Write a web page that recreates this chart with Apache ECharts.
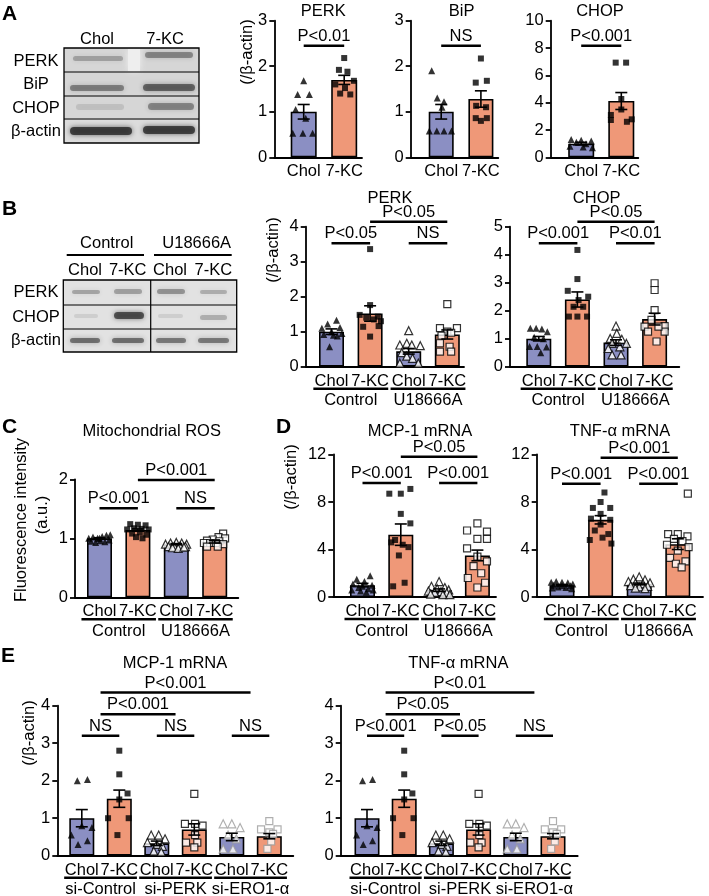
<!DOCTYPE html>
<html><head><meta charset="utf-8">
<script src="https://cdn.jsdelivr.net/npm/echarts@6/dist/echarts.min.js"></script>
<style>html,body{margin:0;padding:0;background:#fff}#c{width:709px;height:896px}</style>
</head><body><div id="c"></div><script>
// ---------------- DATA ----------------
const CATS2 = ['Chol', '7-KC'];
const CATS4 = ['Chol', '7-KC', 'Chol', '7-KC'];
const CATS6 = ['Chol', '7-KC', 'Chol', '7-KC', 'Chol', '7-KC'];
const GROUPS_U = ['Control', 'U18666A'];
const GROUPS_SI = ['si-Control', 'si-PERK', 'si-ERO1-α'];

// Panel A
const A_PERK_MEAN = [1.0, 1.70];
const A_PERK_SEM = [0.16, 0.10];
const A_PERK_PTS = [
  [[0,1.68],[-0.15,1.38],[0.14,1.38],[0.05,0.86],[-0.27,0.53],[-0.02,0.53],[0.22,0.53],[-0.2,1.05]],
  [[0,2.18],[-0.13,1.92],[0.08,1.88],[0.24,1.68],[-0.22,1.6],[0.02,1.52],[-0.1,1.4],[0.15,1.38]]
];
const A_PERK_SIG = [[0, 1, 2.45, 'P<0.01']];

const A_BIP_MEAN = [1.0, 1.28];
const A_BIP_SEM = [0.16, 0.18];
const A_BIP_PTS = [
  [[-0.24,1.9],[-0.1,1.3],[0.07,1.22],[0.02,1.1],[-0.3,0.58],[-0.11,0.58],[0.07,0.58],[0.26,0.58]],
  [[0,2.17],[-0.13,1.64],[0.15,1.68],[-0.12,1.13],[0.13,1.1],[-0.13,0.86],[0.15,0.86],[0.0,0.8]]
];
const A_BIP_SIG = [[0, 1, 2.45, 'NS']];

const A_CHOP_MEAN = [1.0, 4.12];
const A_CHOP_SEM = [0.10, 0.62];
const A_CHOP_PTS = [
  [[-0.25,1.3],[0,1.25],[0.25,1.2],[-0.12,1.1],[0.12,1.0],[-0.28,0.8],[0.05,0.75],[0.28,0.7]],
  [[-0.14,6.93],[0.12,6.93],[0,4.27],[0,3.5],[-0.26,3.1],[-0.26,2.73],[0.26,2.78],[0.14,2.6]]
];
const A_CHOP_SIG = [[0, 1, 8.17, 'P<0.001']];

// Panel B
const B_PERK_MEAN = [1.0, 1.52, 0.44, 0.92];
const B_PERK_SEM = [0.08, 0.22, 0.08, 0.13];
const B_PERK_PTS = [
  [[0.13,1.33],[-0.1,1.22],[-0.25,1.1],[0.22,1.12],[0,1.0],[-0.2,0.92],[0.15,0.88],[0.27,0.95],[-0.05,0.57],[0.05,0.9]],
  [[0,3.36],[0,1.76],[-0.27,1.48],[0.2,1.43],[-0.18,1.14],[0.22,1.16],[0,0.86],[0.1,1.35],[-0.1,1.4],[0.28,1.3]],
  [[0,1.03],[-0.23,0.62],[-0.05,0.67],[0.08,0.62],[0.3,0.6],[-0.18,0.4],[-0.05,0.3],[0.1,0.24],[0.25,0.1],[-0.23,0.1]],
  [[0,1.79],[-0.19,1.1],[0.25,1.1],[0,1.0],[0.1,0.97],[-0.15,0.89],[-0.19,0.67],[0.06,0.57],[-0.19,0.43],[0.1,0.43]]
];
const B_PERK_SIG = [[0, 1, 3.53, 'P<0.05'], [2, 3, 3.53, 'NS'], [1, 3, 4.14, 'P<0.05']];

const B_CHOP_MEAN = [1.0, 2.40, 0.86, 1.70];
const B_CHOP_SEM = [0.08, 0.27, 0.10, 0.21];
const B_CHOP_PTS = [
  [[-0.22,1.37],[-0.07,1.37],[0.08,1.35],[0.22,1.25],[-0.12,1.05],[0.12,1.0],[-0.24,0.72],[-0.04,0.72],[0.2,0.7],[0.05,0.5]],
  [[0,4.17],[0,3.13],[-0.25,2.71],[0.28,2.5],[-0.1,2.14],[0.15,2.14],[-0.22,1.79],[0.25,1.79],[0,1.79],[0.03,2.38]],
  [[0,1.45],[0.02,1.19],[-0.15,1.01],[0.15,0.98],[-0.1,0.83],[0.1,0.71],[-0.2,0.65],[-0.1,0.42],[0.13,0.42],[0.27,0.83]],
  [[0,2.98],[0,2.74],[0,2.02],[-0.08,1.67],[-0.26,1.43],[0.26,1.45],[-0.17,1.25],[0.26,1.25],[0.1,1.43],[0.05,0.9]]
];
const B_CHOP_SIG = [[0, 1, 4.41, 'P<0.001'], [2, 3, 4.41, 'P<0.01'], [1, 3, 5.18, 'P<0.05']];

// Panel C
const C_MEAN = [1.0, 1.14, 0.90, 0.94];
const C_SEM = [0.01, 0.02, 0.01, 0.02];
const C_PTS = [
  [[-0.28,1.0],[-0.17,1.02],[-0.05,1.0],[0.07,1.03],[0.18,1.05],[0.28,1.06],[-0.22,0.95],[-0.1,0.93],[0.02,0.96],[0.14,0.94],[0.25,0.97],[0,1.0]],
  [[-0.2,1.24],[0,1.23],[0.2,1.22],[-0.28,1.15],[-0.1,1.17],[0.1,1.16],[0.28,1.15],[-0.15,1.08],[0.05,1.1],[0.22,1.06],[-0.05,1.02],[0.12,1.0]],
  [[-0.28,0.9],[-0.15,0.92],[0,0.93],[0.14,0.92],[0.27,0.9],[-0.2,0.86],[-0.05,0.86],[0.1,0.87],[0.24,0.86],[-0.1,0.84],[0.05,0.83],[0.2,0.85]],
  [[0.22,1.08],[0.1,1.02],[0.27,1.0],[-0.05,0.98],[-0.2,0.96],[0.12,0.95],[-0.28,0.92],[-0.12,0.92],[0.03,0.92],[0.22,0.9],[-0.2,0.86],[0.08,0.86]]
];
const C_SIG = [[0, 1, 1.51, 'P<0.001'], [2, 3, 1.51, 'NS'], [1, 3, 1.99, 'P<0.001']];

// Panel D
const D_MCP_MEAN = [1.0, 5.25, 0.58, 3.5];
const D_MCP_SEM = [0.15, 0.9, 0.1, 0.45];
const D_MCP_PTS = [
  [[0.2,1.8],[-0.15,1.5],[0.05,1.3],[-0.25,1.1],[0.25,1.0],[0,0.9],[-0.1,0.8],[0.15,0.7],[-0.28,0.6],[0.28,0.6],[-0.05,0.5],[0.1,0.4]],
  [[-0.3,8.7],[0,8.7],[0.25,9.1],[0,7.0],[0.25,6.2],[-0.15,4.8],[0.05,4.4],[-0.25,4.6],[0.2,4.2],[-0.05,3.5],[0.1,1.2],[-0.2,0.9]],
  [[0,1.3],[-0.2,0.9],[0.15,0.8],[-0.05,0.7],[0.25,0.6],[-0.28,0.5],[0.05,0.45],[-0.12,0.4],[0.2,0.35],[-0.22,0.25],[0.1,0.2],[0.28,0.2]],
  [[0,6.2],[-0.27,5.6],[0.25,5.5],[0.25,4.9],[0,4.9],[-0.27,4.1],[0,3.4],[0.25,3.0],[-0.1,2.6],[0.1,2.0],[-0.25,1.6],[0.2,1.2],[0,0.8]]
];
const D_MCP_SIG = [[0, 1, 9.61, 'P<0.001'], [2, 3, 9.61, 'P<0.001'], [1, 3, 11.81, 'P<0.05']];

const D_TNF_MEAN = [1.0, 6.5, 1.1, 4.45];
const D_TNF_SEM = [0.05, 0.35, 0.07, 0.45];
const D_TNF_PTS = [
  [[-0.28,1.25],[-0.15,1.3],[0,1.25],[0.15,1.2],[0.28,1.1],[-0.22,1.0],[0,0.95],[0.22,0.95],[-0.1,0.85],[0.1,0.8],[-0.25,0.75],[0.25,0.7]],
  [[0.1,8.8],[-0.2,7.5],[0.25,7.5],[0,7.0],[-0.25,6.6],[0.25,6.5],[0,6.1],[-0.15,5.6],[0.2,5.3],[-0.28,4.8],[0.05,5.0],[0.28,4.5],[0,8.0]],
  [[0,1.7],[-0.15,1.5],[0.15,1.45],[-0.28,1.3],[0.28,1.2],[-0.1,1.15],[0.1,1.1],[-0.22,0.95],[0.22,0.9],[0,0.85],[-0.1,0.75],[0.15,0.7]],
  [[0.26,8.7],[-0.25,5.3],[0,5.3],[0.25,5.1],[-0.1,4.9],[0.12,4.7],[-0.28,4.4],[0.28,4.2],[0,3.9],[-0.2,3.3],[0.2,3.0],[-0.05,2.8],[0.1,2.5]]
];
const D_TNF_SIG = [[0, 1, 9.54, 'P<0.001'], [2, 3, 9.54, 'P<0.001'], [1, 3, 11.72, 'P<0.001']];

// Panel E
const E_MCP_MEAN = [1.0, 1.52, 0.33, 0.70, 0.50, 0.52];
const E_MCP_SEM = [0.23, 0.23, 0.06, 0.15, 0.10, 0.07];
const E_MCP_PTS = [
  [[-0.12,2.0],[0.15,2.03],[0,0.8],[-0.28,0.55],[0.27,0.75],[-0.1,0.3],[0.15,0.4]],
  [[0,2.8],[0,2.17],[0.22,1.66],[0,1.5],[-0.3,1.0],[0.25,1.0],[-0.05,0.55]],
  [[-0.15,0.55],[0.05,0.55],[0.22,0.45],[-0.25,0.35],[0,0.3],[0.15,0.25],[-0.08,0.12],[0.12,0.1]],
  [[0,1.65],[-0.25,0.85],[0.02,0.85],[0.22,0.8],[0.02,0.55],[-0.22,0.35],[0.08,0.35],[0,0.22]],
  [[-0.23,0.85],[0,0.85],[0.22,0.75],[-0.1,0.55],[0.12,0.45],[-0.23,0.18],[0.03,0.18]],
  [[0,0.92],[-0.22,0.7],[0.22,0.7],[0,0.62],[0.1,0.58],[0.05,0.38],[-0.05,0.18]]
];
const E_MCP_SIG = [[0, 1, 3.2, 'NS'], [2, 3, 3.2, 'NS'], [4, 5, 3.2, 'NS'], [0.5, 2.5, 3.77, 'P<0.001'], [0.5, 4.5, 4.35, 'P<0.001']];

const E_TNF_MEAN = [1.0, 1.52, 0.33, 0.70, 0.50, 0.52];
const E_TNF_SEM = [0.23, 0.23, 0.06, 0.15, 0.10, 0.07];
const E_TNF_PTS = E_MCP_PTS.map(g => g.slice());
const E_TNF_SIG = [[0, 1, 3.2, 'P<0.001'], [2, 3, 3.2, 'P<0.05'], [4, 5, 3.2, 'NS'], [0.5, 2.5, 3.77, 'P<0.05'], [0.5, 4.5, 4.35, 'P<0.01']];

// ---------------- STYLE / LAYOUT ----------------
const FONT = '"Liberation Sans", Arial, Helvetica, sans-serif';
const FS = 16.5;
const BAR_COLORS = ['#8b8fc3', '#ef9878'];
const MARK = {
  ft: {symbol: 'triangle', symbolSize: 7, itemStyle: {color: '#000'}},
  fs: {symbol: 'rect', symbolSize: 6, itemStyle: {color: '#000'}},
  ot: {symbol: 'triangle', symbolSize: 8, itemStyle: {color: '#fff', borderColor: '#000', borderWidth: 1.2}},
  os: {symbol: 'rect', symbolSize: 7, itemStyle: {color: '#fff', borderColor: '#000', borderWidth: 1.2}},
  gt: {symbol: 'triangle', symbolSize: 8, itemStyle: {color: '#fff', borderColor: '#9b9b9b', borderWidth: 1.2}},
  gs: {symbol: 'rect', symbolSize: 7, itemStyle: {color: '#fff', borderColor: '#9b9b9b', borderWidth: 1.2}}
};
const SH2 = ['ft', 'fs'], SH4 = ['ft', 'fs', 'ot', 'os'], SH6 = ['ft', 'fs', 'ot', 'os', 'gt', 'gs'];

const CHARTS = [
  {left: 274.3, right: 362, top: 20.7, bottom: 157.3, c0: 303.7, s: 40.5, bw: 26, ymax: 3, yint: 1, cats: CATS2, mean: A_PERK_MEAN, sem: A_PERK_SEM, pts: A_PERK_PTS, sig: A_PERK_SIG, sh: SH2},
  {left: 410.7, right: 498.3, top: 20.7, bottom: 157.3, c0: 441.2, s: 39.7, bw: 25, ymax: 3, yint: 1, cats: CATS2, mean: A_BIP_MEAN, sem: A_BIP_SEM, pts: A_BIP_PTS, sig: A_BIP_SIG, sh: SH2},
  {left: 550.7, right: 638.3, top: 20.7, bottom: 157.3, c0: 581.2, s: 40.1, bw: 26, ymax: 10, yint: 2, cats: CATS2, mean: A_CHOP_MEAN, sem: A_CHOP_SEM, pts: A_CHOP_PTS, sig: A_CHOP_SIG, sh: SH2},
  {left: 305.7, right: 464, top: 226.7, bottom: 366.7, c0: 331.5, s: 38.6, bw: 25, ymax: 4, yint: 1, cats: CATS4, mean: B_PERK_MEAN, sem: B_PERK_SEM, pts: B_PERK_PTS, sig: B_PERK_SIG, sh: SH4, groups: GROUPS_U},
  {left: 510, right: 679.3, top: 226.7, bottom: 366.7, c0: 538.8, s: 38.6, bw: 25, ymax: 5, yint: 1, cats: CATS4, mean: B_CHOP_MEAN, sem: B_CHOP_SEM, pts: B_CHOP_PTS, sig: B_CHOP_SIG, sh: SH4, groups: GROUPS_U},
  {left: 75, right: 238.3, top: 479.3, bottom: 597.3, c0: 99.5, s: 38.4, bw: 25, ymax: 2, yint: 1, cats: CATS4, mean: C_MEAN, sem: C_SEM, pts: C_PTS, sig: C_SIG, sh: SH4, groups: GROUPS_U},
  {left: 333.3, right: 496, top: 454.5, bottom: 597, c0: 362.5, s: 38.3, bw: 25, ymax: 12, yint: 4, cats: CATS4, mean: D_MCP_MEAN, sem: D_MCP_SEM, pts: D_MCP_PTS, sig: D_MCP_SIG, sh: SH4, groups: GROUPS_U},
  {left: 536.7, right: 703, top: 454.5, bottom: 597, c0: 562, s: 38.6, bw: 25, ymax: 12, yint: 4, cats: CATS4, mean: D_TNF_MEAN, sem: D_TNF_SEM, pts: D_TNF_PTS, sig: D_TNF_SIG, sh: SH4, groups: GROUPS_U},
  {left: 57.3, right: 293.3, top: 705.7, bottom: 855.7, c0: 81.8, s: 37.5, bw: 25, ymax: 4, yint: 1, cats: CATS6, mean: E_MCP_MEAN, sem: E_MCP_SEM, pts: E_MCP_PTS, sig: E_MCP_SIG, sh: SH6, groups: GROUPS_SI},
  {left: 340.7, right: 577.7, top: 705.7, bottom: 855.7, c0: 367, s: 37.2, bw: 25, ymax: 4, yint: 1, cats: CATS6, mean: E_TNF_MEAN, sem: E_TNF_SEM, pts: E_TNF_PTS, sig: E_TNF_SIG, sh: SH6, groups: GROUPS_SI}
];

function txt(text, x, y, opts) {
  opts = opts || {};
  return {
    type: 'text', x: x, y: y, rotation: opts.rot || 0, z: 10,
    style: {
      text: text, fill: '#000', font: (opts.bold ? 'bold ' : '') + (opts.size || FS) + 'px ' + FONT,
      align: opts.align || 'center', verticalAlign: 'middle',
      textAlign: opts.align || 'center', textVerticalAlign: 'middle'
    }
  };
}

const option = {
  animation: false, backgroundColor: '#fff',
  grid: [], xAxis: [], yAxis: [], series: [], graphic: {elements: []}
};

CHARTS.forEach((c, k) => {
  option.grid.push({left: c.left, top: c.top, width: c.right - c.left, height: c.bottom - c.top, containLabel: false});
  option.xAxis.push({
    type: 'value', gridIndex: k, min: -(c.c0 - c.left) / c.s, max: (c.right - c.c0) / c.s,
    axisLine: {show: true, onZero: false, lineStyle: {color: '#000', width: 1.8}},
    axisTick: {show: false}, splitLine: {show: false},
    axisLabel: {
      customValues: c.cats.map((_, i) => i), formatter: v => c.cats[Math.round(v)] || '',
      color: '#000', fontSize: FS, fontFamily: FONT, margin: 6, hideOverlap: false
    }
  });
  option.yAxis.push({
    type: 'value', gridIndex: k, min: 0, max: c.ymax, interval: c.yint,
    axisLine: {show: true, onZero: false, lineStyle: {color: '#000', width: 1.8}},
    axisTick: {show: true, length: 5, lineStyle: {color: '#000', width: 1.8}},
    splitLine: {show: false},
    axisLabel: {color: '#000', fontSize: FS, fontFamily: FONT, margin: 7}
  });
  // bars
  option.series.push({
    type: 'bar', xAxisIndex: k, yAxisIndex: k, barWidth: c.bw, silent: true, z: 2,
    itemStyle: {borderColor: '#000', borderWidth: 1.6},
    data: c.mean.map((v, i) => ({value: [i, v], itemStyle: {color: BAR_COLORS[i % 2]}}))
  });
  // points
  c.pts.forEach((g, gi) => {
    const m = MARK[c.sh[gi]];
    option.series.push({
      type: 'scatter', xAxisIndex: k, yAxisIndex: k, silent: true, z: 4,
      symbol: m.symbol, symbolSize: m.symbolSize, itemStyle: m.itemStyle,
      data: g.map(p => [gi + p[0], p[1]])
    });
  });
  // error bars
  option.series.push({
    type: 'custom', xAxisIndex: k, yAxisIndex: k, silent: true, z: 5,
    data: c.mean.map((v, i) => [i, v, c.sem[i]]),
    renderItem: (p, api) => {
      const x = api.value(0), m = api.value(1), e = api.value(2);
      const t = api.coord([x, m + e]), b = api.coord([x, m - e]);
      const st = {stroke: '#000', lineWidth: 1.6};
      const w = 6;
      return {type: 'group', children: [
        {type: 'line', shape: {x1: t[0], y1: t[1], x2: b[0], y2: b[1]}, style: st},
        {type: 'line', shape: {x1: t[0] - w, y1: t[1], x2: t[0] + w, y2: t[1]}, style: st},
        {type: 'line', shape: {x1: b[0] - w, y1: b[1], x2: b[0] + w, y2: b[1]}, style: st}
      ]};
    }
  });
  // significance brackets
  option.series.push({
    type: 'custom', xAxisIndex: k, yAxisIndex: k, silent: true, z: 6, clip: false,
    data: c.sig.map(r => [r[0], r[1], r[2]]),
    renderItem: (p, api) => {
      const a = api.coord([api.value(0), api.value(2)]), b = api.coord([api.value(1), api.value(2)]);
      const label = c.sig[p.dataIndex][3];
      return {type: 'group', children: [
        {type: 'line', shape: {x1: a[0], y1: a[1], x2: b[0], y2: b[1]}, style: {stroke: '#000', lineWidth: 2.5}},
        {type: 'text', x: (a[0] + b[0]) / 2, y: a[1] - 9.5, style: {text: label, fill: '#000', font: FS + 'px ' + FONT, align: 'center', verticalAlign: 'middle', textAlign: 'center', textVerticalAlign: 'middle'}}
      ]};
    }
  });
  // group labels under x axis
  if (c.groups) {
    option.series.push({
      type: 'custom', xAxisIndex: k, yAxisIndex: k, silent: true, z: 6, clip: false,
      data: c.groups.map((g, i) => [2 * i, 2 * i + 1]),
      renderItem: (p, api) => {
        const a = api.coord([api.value(0) - 0.47, 0]), b = api.coord([api.value(1) + 0.47, 0]);
        return {type: 'group', children: [
          {type: 'line', shape: {x1: a[0], y1: a[1] + 22, x2: b[0], y2: b[1] + 22}, style: {stroke: '#000', lineWidth: 2.5}},
          {type: 'text', x: (a[0] + b[0]) / 2, y: a[1] + 34, style: {text: c.groups[p.dataIndex], fill: '#000', font: FS + 'px ' + FONT, align: 'center', verticalAlign: 'middle', textAlign: 'center', textVerticalAlign: 'middle'}}
        ]};
      }
    });
  }
});

// ---------------- TEXT + BLOTS (graphic) ----------------
const G = option.graphic.elements;
[['A', 2, 14], ['B', 2, 209], ['C', 2, 427.5], ['D', 276, 427.5], ['E', 1, 656.7]].forEach(l => G.push(txt(l[0], l[1], l[2], {bold: true, size: 21, align: 'left'})));
[['PERK', 323.3, 11.7], ['BiP', 461.7, 11.7], ['CHOP', 600, 11.7], ['PERK', 390, 198.3], ['CHOP', 596.7, 198.3],
 ['Mitochondrial ROS', 151.7, 431.7], ['MCP-1 mRNA', 420, 431.7], ['TNF-α mRNA', 620, 431.7],
 ['MCP-1 mRNA', 175, 663.3], ['TNF-α mRNA', 458.3, 663.3]].forEach(t => G.push(txt(t[0], t[1], t[2])));
// y axis names
G.push(txt('(/β-actin)', 247, 52, {rot: Math.PI / 2}));
G.push(txt('(/β-actin)', 273.5, 250, {rot: Math.PI / 2}));
G.push(txt('Fluorescence intensity', 21, 520, {rot: Math.PI / 2}));
G.push(txt('(a.u.)', 42, 515, {rot: Math.PI / 2}));
G.push(txt('(/β-actin)', 291.7, 477, {rot: Math.PI / 2}));
G.push(txt('(/β-actin)', 29, 733, {rot: Math.PI / 2}));

function band(x, y, w, h, a) {
  return {type: 'rect', z: 3, shape: {x: x, y: y, width: w, height: h, r: h / 2},
    style: {fill: 'rgba(40,40,40,' + a + ')', shadowBlur: 5, shadowColor: 'rgba(40,40,40,' + a + ')'}};
}
function hline(x1, x2, y, w) {
  return {type: 'line', z: 5, shape: {x1: x1, y1: y, x2: x2, y2: y}, style: {stroke: '#000', lineWidth: w || 1.2}};
}
// Blot A
G.push({type: 'rect', z: 1, shape: {x: 64, y: 48, width: 135, height: 95}, style: {fill: '#d6d6d6'}});
G.push({type: 'rect', z: 2, shape: {x: 128, y: 49, width: 12, height: 22}, style: {fill: '#eeeeee', shadowBlur: 6, shadowColor: '#eeeeee'}});
G.push({type: 'rect', z: 2, shape: {x: 65, y: 120, width: 133, height: 22}, style: {fill: '#dcdcdc'}});
G.push(band(73, 56, 50, 5, 0.28), band(145, 52, 48, 6, 0.42));
G.push(band(70, 85, 54, 6, 0.45), band(143, 84, 52, 7, 0.6));
G.push(band(76, 104, 48, 6, 0.12), band(148, 103, 46, 7, 0.42));
G.push(band(70, 127, 62, 8, 0.82), band(143, 126, 52, 8, 0.8));
G.push({type: 'rect', z: 6, shape: {x: 64, y: 48, width: 135, height: 95}, style: {fill: 'none', stroke: '#000', lineWidth: 1.3}});
G.push(hline(64, 199, 72), hline(64, 199, 96), hline(64, 199, 119));
G.push(txt('Chol', 97, 39), txt('7-KC', 165, 39));
G.push(txt('PERK', 36, 61), txt('BiP', 36, 84), txt('CHOP', 36, 108), txt('β-actin', 36, 131));
// Blot B
G.push({type: 'rect', z: 1, shape: {x: 63.3, y: 280, width: 173.4, height: 72}, style: {fill: '#e2e2e2'}});
G.push(band(72, 290, 28, 4, 0.3), band(114, 289, 28, 5, 0.32), band(157, 289, 28, 5, 0.38), band(200, 290, 27, 4, 0.26));
G.push(band(74, 314, 24, 4, 0.1), band(114, 312, 30, 7, 0.72), band(158, 314, 25, 4, 0.1), band(200, 315, 27, 5, 0.25));
G.push(band(70, 338, 30, 5, 0.55), band(112, 338, 32, 5, 0.55), band(156, 338, 30, 5, 0.5), band(198, 338, 31, 5, 0.5));
G.push({type: 'rect', z: 6, shape: {x: 63.3, y: 280, width: 173.4, height: 72}, style: {fill: 'none', stroke: '#000', lineWidth: 1.3}});
G.push(hline(63.3, 236.7, 305), hline(63.3, 236.7, 329));
G.push({type: 'line', z: 6, shape: {x1: 150.7, y1: 280, x2: 150.7, y2: 352}, style: {stroke: '#000', lineWidth: 1.2}});
G.push(txt('Control', 106.7, 243.3), txt('U18666A', 196.7, 243.3));
G.push(hline(66.7, 144, 255, 2.2), hline(154, 231.7, 255, 2.2));
G.push(txt('Chol', 85, 270), txt('7-KC', 127.7, 270), txt('Chol', 170, 270), txt('7-KC', 213.3, 270));
G.push(txt('PERK', 36, 292.5), txt('CHOP', 36, 317), txt('β-actin', 36, 340.5));

const chart = echarts.init(document.getElementById('c'), null, {renderer: 'canvas'});
chart.setOption(option);
</script></body></html>
